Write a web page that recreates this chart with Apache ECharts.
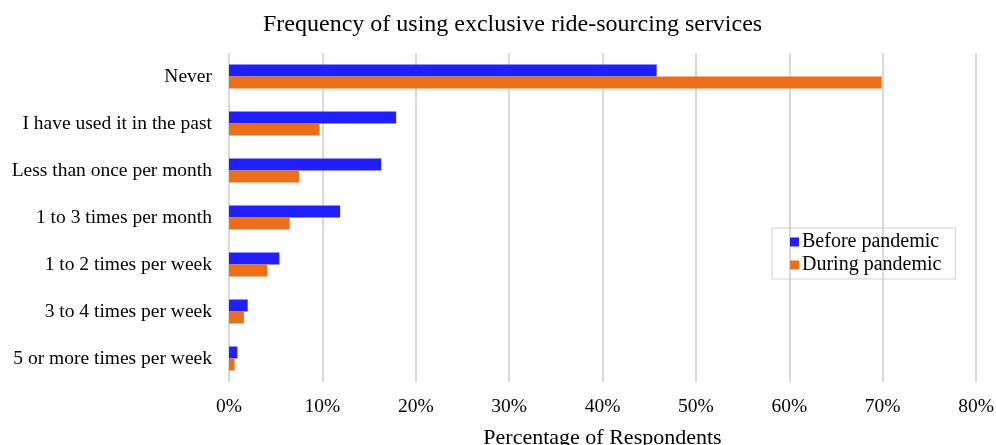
<!DOCTYPE html>
<html>
<head>
<meta charset="utf-8">
<script src="https://cdn.jsdelivr.net/npm/echarts@6/dist/echarts.min.js"></script>
<style>html,body{margin:0;padding:0;background:#fff;}#c{width:996px;height:445px;}</style>
</head>
<body>
<div id="c"></div>
<script>
const categories = ["Never", "I have used it in the past", "Less than once per month", "1 to 3 times per month", "1 to 2 times per week", "3 to 4 times per week", "5 or more times per week"];
const beforePandemic = [45.8, 17.9, 16.3, 11.9, 5.4, 2.0, 0.9];
const duringPandemic = [69.9, 9.7, 7.5, 6.5, 4.1, 1.6, 0.6];
const seriesNames = ["Before pandemic", "During pandemic"];

const font = "'Liberation Serif', 'Times New Roman', serif";
const chart = echarts.init(document.getElementById('c'), null, {renderer: 'canvas'});
chart.setOption({
  animation: false,
  textStyle: {fontFamily: font},
  title: {
    text: "Frequency of using exclusive ride-sourcing services",
    left: 258, top: 8,
    textStyle: {fontFamily: font, fontSize: 24, fontWeight: 'normal', color: '#000'}
  },
  legend: {
    orient: 'vertical',
    left: 772, top: 228,
    data: seriesNames,
    icon: 'rect',
    itemWidth: 9, itemHeight: 9, itemGap: 3,
    borderColor: '#d0d0d0', borderWidth: 1,
    padding: [4, 14, 4, 18],
    textStyle: {fontFamily: font, fontSize: 20, color: '#000', padding: [0,0,0,-2]}
  },
  grid: {left: 229, right: 20, top: 53, height: 329, containLabel: false, outerBoundsMode: 'none'},
  xAxis: {
    type: 'value', min: 0, max: 80, interval: 10,
    axisLabel: {formatter: '{value}%', fontFamily: font, fontSize: 19.5, color: '#000', margin: 15},
    splitLine: {show: true, lineStyle: {color: '#d9d9d9', width: 2}},
    axisLine: {show: false}, axisTick: {show: false},
    name: 'Percentage of Respondents', nameLocation: 'middle', nameGap: 45,
    nameTextStyle: {fontFamily: font, fontSize: 22, color: '#000'}
  },
  yAxis: {
    type: 'category', data: categories, inverse: true,
    axisLine: {show: false}, axisTick: {show: false},
    axisLabel: {fontFamily: font, fontSize: 19.5, color: '#000', margin: 17, padding: [3, 0, 0, 0]}
  },
  series: [
    {name: seriesNames[0], type: 'bar', data: beforePandemic, itemStyle: {color: '#2020FF'}, barGap: '0%', barWidth: 12},
    {name: seriesNames[1], type: 'bar', data: duringPandemic, itemStyle: {color: '#EB6E18'}, barGap: '0%', barWidth: 12}
  ]
});
</script>
</body>
</html>
